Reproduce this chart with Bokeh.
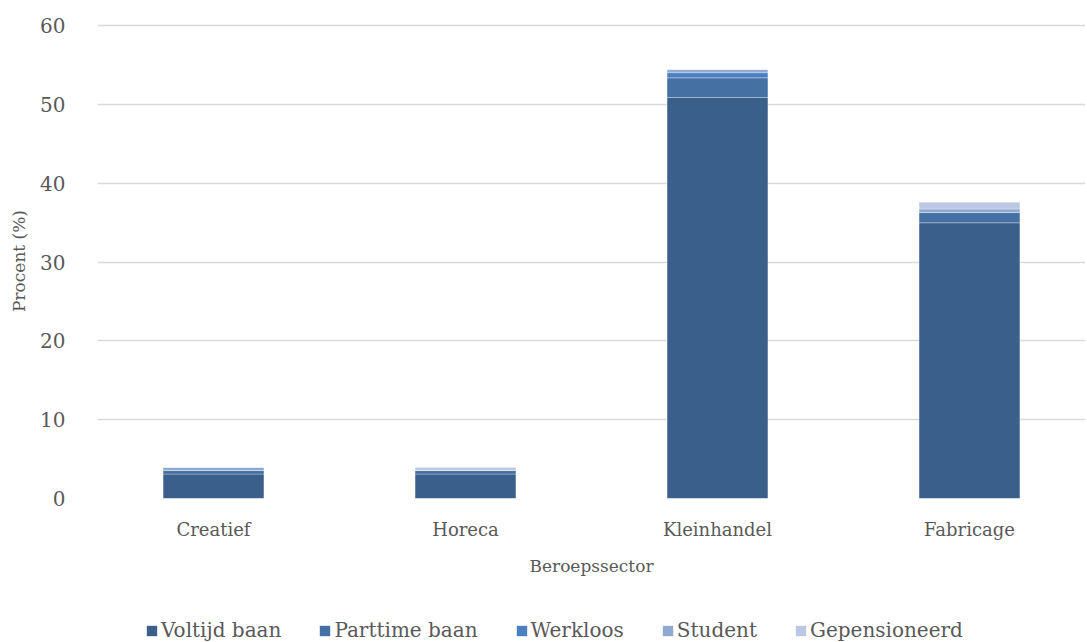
from bokeh.plotting import figure
from bokeh.models import ColumnDataSource, Legend, FactorRange
from bokeh.layouts import column
from bokeh.embed import file_html
from bokeh.resources import INLINE

sectors = ["Creatief", "Horeca", "Kleinhandel", "Fabricage"]
series = ["Voltijd baan", "Parttime baan", "Werkloos", "Student", "Gepensioneerd"]
voltijd = [3.1, 3.1, 50.9, 35.0]
parttime = [0.45, 0.45, 2.5, 1.3]
werkloos = [0.0, 0.0, 0.65, 0.0]
student = [0.4, 0.0, 0.4, 0.45]
gepensioneerd = [0.0, 0.4, 0.0, 0.85]
colors = ["#3a5f8b", "#4470a3", "#4a7fc0", "#8fa9d3", "#bcc8e3"]
y_ticks = [0, 10, 20, 30, 40, 50, 60]

FONT = "DejaVu Serif"
TXT = "#595959"
stack_cols = ["v", "p", "w", "s", "g"]

src = ColumnDataSource(dict(sector=sectors, v=voltijd, p=parttime, w=werkloos,
                            s=student, g=gepensioneerd))

p = figure(x_range=FactorRange(*sectors, range_padding=-0.0198), y_range=(0, 60.3),
           width=1085, frame_width=988, frame_height=475, output_backend="svg",
           toolbar_location=None,
           min_border_left=97, min_border_right=0, min_border_top=23, min_border_bottom=120)
p.outline_line_color = None

rs = p.vbar_stack(stack_cols, x="sector", width=0.4, source=src,
                  color=colors, line_color="white", line_alpha=0.35, line_width=0.8)

p.yaxis.ticker = y_ticks
p.yaxis.axis_line_color = None
p.yaxis.major_tick_line_color = None
p.yaxis.minor_tick_line_color = None
p.yaxis.major_label_text_font = FONT
p.yaxis.major_label_text_font_size = "20px"
p.yaxis.major_label_text_color = TXT
p.yaxis.axis_label = "Procent (%)"
p.yaxis.axis_label_text_font = FONT
p.yaxis.axis_label_text_font_size = "17px"
p.yaxis.axis_label_text_font_style = "normal"
p.yaxis.axis_label_text_color = TXT
p.yaxis.major_label_standoff = 26
p.yaxis.axis_label_standoff = 8

p.xaxis.axis_line_color = None
p.xaxis.major_tick_line_color = None
p.xaxis.minor_tick_line_color = None
p.xaxis.major_label_text_font = FONT
p.xaxis.major_label_text_font_size = "18px"
p.xaxis.major_label_text_color = TXT
p.xaxis.major_label_standoff = 14
p.xaxis.axis_label = "Beroepssector"
p.xaxis.axis_label_text_font = FONT
p.xaxis.axis_label_text_font_size = "17px"
p.xaxis.axis_label_text_font_style = "normal"
p.xaxis.axis_label_text_color = TXT
p.xaxis.axis_label_standoff = 13

p.xgrid.grid_line_color = None
p.ygrid.grid_line_color = "#d9d9d9"
p.ygrid.grid_line_width = 1.5

# legend strip below the chart (its bars are hairline-thin and outside the visible y-range)
leg = figure(width=1085, height=24, output_backend="svg", toolbar_location=None,
             min_border=0, x_range=FactorRange(*sectors), y_range=(-100, -99),
             x_axis_location=None, y_axis_location=None)
leg.grid.visible = False
leg.outline_line_color = None
lrs = leg.vbar_stack(stack_cols, x="sector", width=0.0001, source=src, color=colors,
                     line_color=None)
legend = Legend(items=[(name, [r]) for name, r in zip(series, lrs)],
                orientation="horizontal", location=(48, 0),
                label_text_font=FONT, label_text_font_size="20px",
                label_text_color=TXT, glyph_width=13, glyph_height=13,
                spacing=37, label_standoff=3, border_line_color=None,
                background_fill_alpha=0, margin=0, padding=0)
leg.add_layout(legend, "center")

layout = column(p, leg, spacing=0)
open("out.html", "w").write(file_html(layout, INLINE))
